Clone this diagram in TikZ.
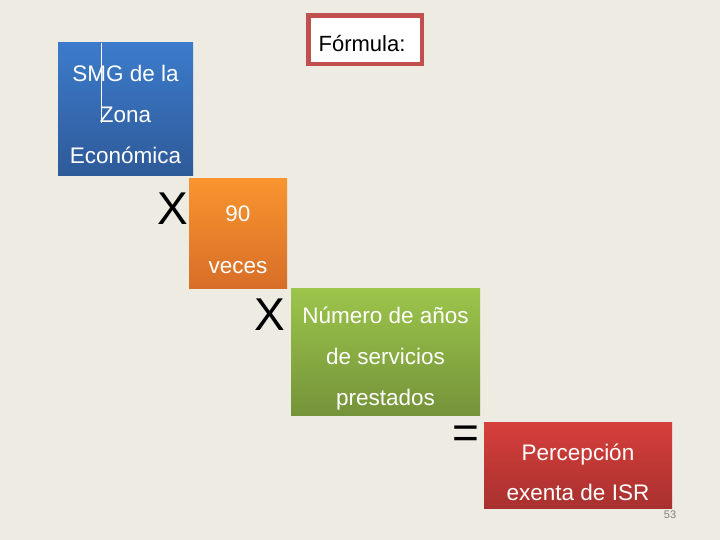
\documentclass[tikz,border=0pt]{standalone}
\usepackage{fontspec}
\setmainfont{Liberation Sans}
\begin{document}
\begin{tikzpicture}[x=1pt,y=-1pt,
  boxtxt/.style={text=white,font=\fontsize{22.5}{41}\selectfont,align=center},
  optxt/.style={font=\fontsize{46}{46}\selectfont,inner sep=0pt}]
\definecolor{bg}{HTML}{EEEBE2}
\definecolor{bluet}{HTML}{3C7BCB}\definecolor{blueb}{HTML}{2E5A98}
\definecolor{oranget}{HTML}{F8952F}\definecolor{orangeb}{HTML}{D76E28}
\definecolor{greent}{HTML}{9CC54B}\definecolor{greenb}{HTML}{75933A}
\definecolor{redt}{HTML}{D63F3B}\definecolor{redb}{HTML}{A8312F}
\definecolor{frame}{HTML}{C0504D}
\useasboundingbox (0,0) rectangle (720,540);
\fill[bg] (0,0) rectangle (720,540);
% formula box
\filldraw[fill=white,draw=frame,line width=4.5pt] (308.5,15.5) rectangle (422,64);
\node (f) at (362,44) {\fontsize{22}{22}\selectfont Fórmula:};
% blue
\shade[top color=bluet,bottom color=blueb] (58,43) rectangle (193,176);
\draw[white,line width=0.8pt] (101.5,43) -- (101.5,123);
\node[boxtxt] (b) at (125.5,114) {SMG de la\\Zona\\Económica};
% orange
\shade[top color=oranget,bottom color=orangeb] (189,179) rectangle (287,288);
\node[boxtxt,font=\fontsize{22.5}{52}\selectfont] (o) at (238,240) {90\\veces};
% green
\shade[top color=greent,bottom color=greenb] (291,288) rectangle (480,415);
\node[boxtxt] (g) at (385.5,359) {Número de años\\de servicios\\prestados};
% red
\shade[top color=redt,bottom color=redb] (484,422) rectangle (672,508);
\node[boxtxt,font=\fontsize{22.5}{40}\selectfont] (r) at (578,472) {Percepción\\exenta de ISR};
% operators
\node[optxt] (x1) at (173,209) {X};
\node[optxt] (x2) at (270,315) {X};
\node[optxt] (eq) at (466,437) {=};
\node[text=gray,font=\fontsize{11}{11}\selectfont] (p) at (670,515) {53};
\end{tikzpicture}
\end{document}
